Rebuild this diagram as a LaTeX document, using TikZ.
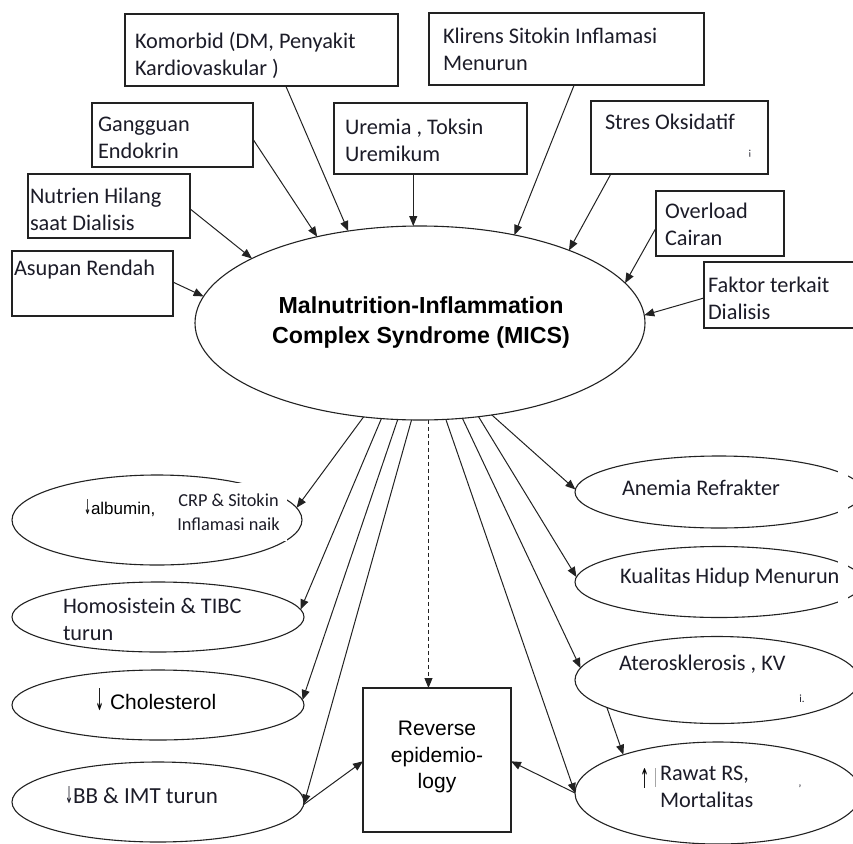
\documentclass[tikz,border=0pt]{standalone}
\usepackage{fontspec}
\setmainfont{Carlito}
\newfontfamily\arial{Liberation Sans}
\newfontfamily\arrowfont{DejaVu Sans}
\usetikzlibrary{arrows.meta,shapes.geometric}
\definecolor{ink}{HTML}{1C1C28}
\definecolor{edge}{HTML}{222222}
% tall, narrow up/down arrows used inside the labels
\newcommand{\dnarrow}[2]{\resizebox{#1}{#2}{\arrowfont ↓}}
\newcommand{\uparrowglyph}[2]{\resizebox{#1}{#2}{\arrowfont ↑}}
\tikzset{
  every node/.style={inner sep=0pt, outer sep=0pt},
  box/.style={draw=edge, line width=1.2pt, rectangle, fill=white},
  oval/.style={draw=edge, ellipse, line width=1.1pt},
  lbl/.style={font=\fontsize{22.3}{27}\selectfont, align=left, text=ink},
  small/.style={font=\fontsize{18.3}{24}\selectfont, align=center, text=ink},
  sans/.style={font=\arial\fontsize{21}{26.5}\selectfont, align=center, text=black},
  speck/.style={font=\fontsize{11}{11}\selectfont, text=ink},
  arr/.style={draw=edge, line width=1pt, -{Triangle[length=10pt,width=8pt]}},
}
\begin{document}
\begin{tikzpicture}[x=1pt, y=-1pt]
\useasboundingbox (0,0) rectangle (853,843);
\clip (0,0) rectangle (853,843);

% central syndrome
\node[oval, minimum width=450pt, minimum height=194pt] (mics) at (420,323) {};
\node[font=\arial\bfseries\fontsize{23.2}{30}\selectfont, align=center] (micst) at (421,322)
  {Malnutrition-Inflammation\\Complex Syndrome (MICS)};

% causes
\node[box, minimum width=273pt, minimum height=72pt] (komorbid) at (261.5,50) {};
\node[lbl, anchor=west] (komorbidt) at (135,55) {Komorbid (DM, Penyakit\\Kardiovaskular )};
\node[box, minimum width=161pt, minimum height=64pt] (gangguan) at (172.5,135) {};
\node[lbl, anchor=west] (gangguant) at (98,138) {Gangguan\\Endokrin};
\node[box, minimum width=162pt, minimum height=64pt] (nutrien) at (109,206) {};
\node[lbl, anchor=west] (nutrient) at (30,209) {Nutrien Hilang\\saat Dialisis};
\node[box, minimum width=161pt, minimum height=65pt] (asupan) at (92.5,283.5) {};
\node[lbl, anchor=base west] (asupant) at (14,275) {Asupan Rendah};
\node[box, minimum width=193pt, minimum height=71pt] (uremia) at (430.5,138.5) {};
\node[lbl, anchor=west] (uremiat) at (345,140) {Uremia , Toksin\\Uremikum};
\node[box, minimum width=275pt, minimum height=72pt] (klirens) at (566.5,49) {};
\node[lbl, anchor=west] (klirenst) at (443,49.5) {Klirens Sitokin Inflamasi\\Menurun};
\node[box, minimum width=177pt, minimum height=73pt] (stres) at (679.5,137.5) {};
\node[lbl, anchor=base west] (strest) at (605,129) {Stres Oksidatif};
\node[speck] (stresm) at (750,154) {¡};
\node[box, minimum width=128pt, minimum height=65pt] (overload) at (720,223.5) {};
\node[lbl, anchor=west] (overloadt) at (665,224.5) {Overload\\Cairan};
\node[box, minimum width=170pt, minimum height=66pt] (faktor) at (789,295) {};
\node[lbl, anchor=west] (faktort) at (708,298) {Faktor terkait\\Dialisis};

\draw[arr] (komorbid.-56.9) -- (mics.128.1);
\draw[arr] (gangguan.-3.6) -- (mics.140.7);
\draw[arr] (nutrien.-2.8) -- (mics.159.8);
\draw[arr] (asupan.1.8) -- (mics.173.7);
\draw[arr] (mics.94.1 |- uremia.south) -- (mics.94.1);
\draw[arr] (klirens.-78.2) -- (mics.43.5);
\draw[arr] (stres.208.8) -- (mics.26.3);
\draw[arr] (overload.184) -- (mics.11);
\draw[arr] (faktor.182) -- (mics.2);

% consequences, left column
\node[oval, minimum width=290pt, minimum height=90pt] (e1) at (157,520) {};
\node[font=\arial\fontsize{17}{20}\selectfont, anchor=base west] (e1a) at (84,514)
  {\dnarrow{7pt}{15pt}albumin,};
\node[small, fill=white, minimum width=117pt, minimum height=58pt] (e1b) at (228.5,512)
  {CRP \& Sitokin\\Inflamasi naik};
\node[oval, minimum width=292pt, minimum height=70pt] (e2) at (158,617) {};
\node[lbl, anchor=west] (e2t) at (63,619) {Homosistein \& TIBC\\turun};
\node[oval, minimum width=292pt, minimum height=70pt] (e3) at (158,705) {};
\node[sans, anchor=base west] (e3t) at (95,709)
  {\raisebox{-1.5pt}{\dnarrow{9pt}{22pt}}\hspace{6pt}Cholesterol};
\node[oval, minimum width=292pt, minimum height=80pt] (e4) at (158,802) {};
\node[font=\fontsize{23}{27}\selectfont, text=ink, anchor=base west] (e4t) at (65,803)
  {\dnarrow{8pt}{17pt}BB \& IMT turun};

% consequences, right column
\node[oval, minimum width=288pt, minimum height=72pt] (r1) at (719,492) {};
\node[lbl, anchor=base west] (r1t) at (622,495) {Anemia Refrakter};
\node[oval, minimum width=288pt, minimum height=71pt] (r2) at (719,582) {};
\node[lbl, anchor=base west] (r2t) at (620,583) {Kualitas Hidup Menurun};
\fill[white] (838,452) rectangle (848,532);
\fill[white] (838,542) rectangle (848,622);
\node[oval, minimum width=284pt, minimum height=87pt] (r3) at (717,680) {};
\node[lbl, anchor=base west] (r3t) at (619,670) {Aterosklerosis , KV};
\node[speck] (r3m) at (802,699) {i.};
\node[oval, minimum width=286pt, minimum height=102pt] (r4) at (718,793) {};
\node[sans, anchor=base west] (r4a) at (640,788) {\uparrowglyph{9pt}{20pt}};
\node[lbl, anchor=west] (r4t) at (660,787) {Rawat RS,\\Mortalitas};
\draw[gray!70, line width=0.6pt] (r4a.east) ++(6,-10) -- ++(0,19);
\node[speck] (r4m) at (800,789) {'};

% reverse epidemiology
\node[box, minimum width=148pt, minimum height=144pt] (rev) at (437,760) {};
\node[sans] (revt) at (437,757) {Reverse\\epidemio-\\logy};

\draw[arr] (mics.239.4) -- (e1.5);
\draw[arr] (mics.248.1) -- (e2.3);
\draw[arr] (mics.257) -- (e3.2);
\draw[arr] (mics.265.8) -- (e4.-1);
\draw[arr] (e4.-1) -- (rev.181.5);
\draw[arr, dash pattern=on 4pt off 3pt] (mics.275.9) -- (mics.275.9 |- rev.north);
\draw[arr] (mics.285.8) -- (r4.180);
\draw[arr] (mics.294) -- (r3.175);
\draw[arr] (mics.302) -- (r2.178);
\draw[arr] (mics.308.8) -- (r1.179);
\draw[arr] (r3.194.4) -- (r4.158.4);
\draw[arr] (r4.180) -- (rev.-1.5);
\end{tikzpicture}
\end{document}
